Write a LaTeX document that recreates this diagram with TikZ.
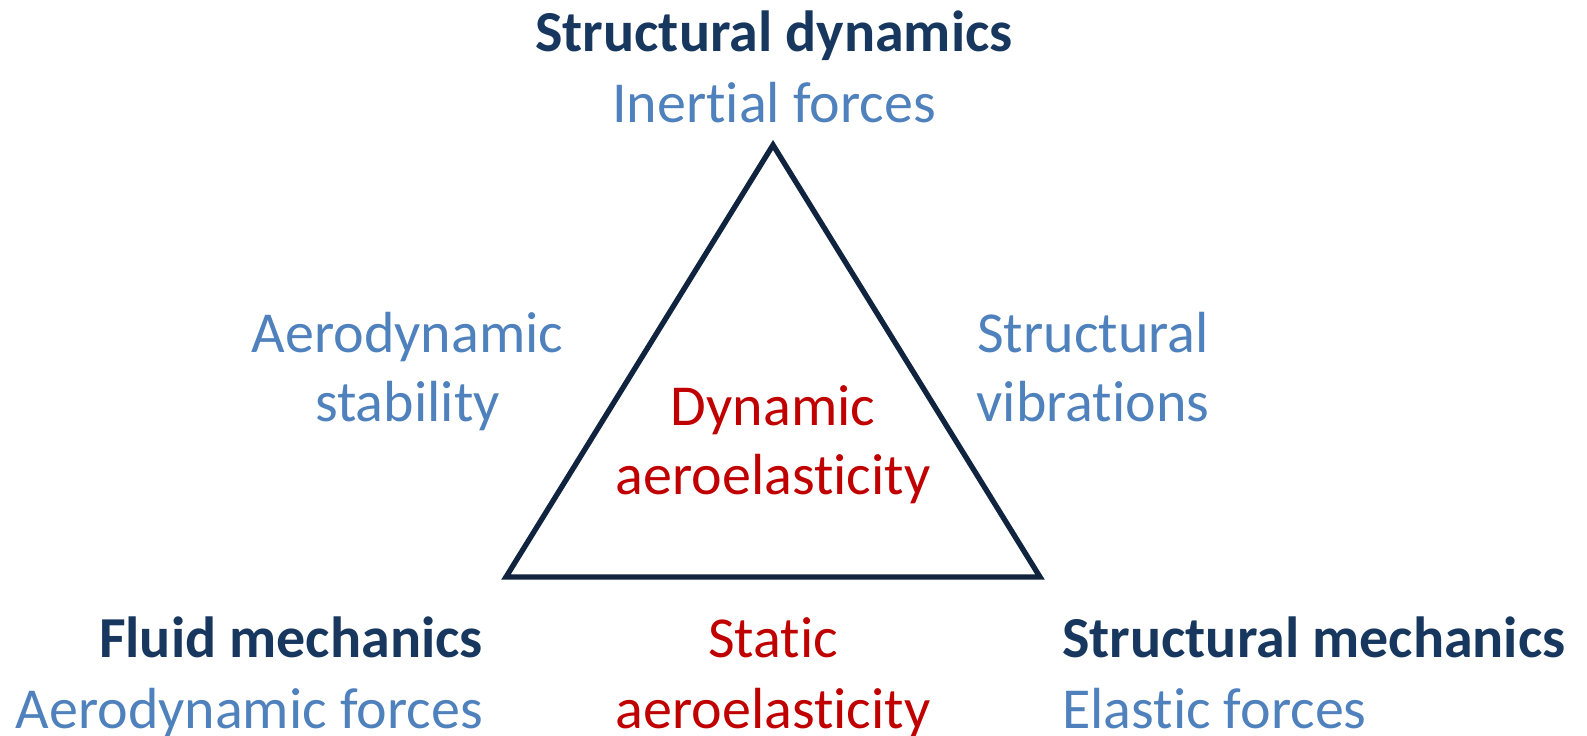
\documentclass[tikz,border=0pt]{standalone}
\usepackage{fontspec}
\setmainfont{Carlito}[Ligatures=NoCommon]
\definecolor{headnavy}{HTML}{17375E}
\definecolor{subblue}{HTML}{4F81BD}
\definecolor{aerored}{HTML}{C00000}
\definecolor{edgenavy}{HTML}{10243F}
\begin{document}
\begin{tikzpicture}[x=0.75pt,y=-0.75pt,
  label/.style={inner sep=0pt,anchor=base,font=\fontsize{43.5}{52}\selectfont},
  head/.style={label,text=headnavy,font=\fontsize{43.5}{52}\selectfont\bfseries},
  sub/.style={label,text=subblue},
  kind/.style={label,text=aerored},
  edge/.style={draw=edgenavy,line width=4pt,line join=miter}]
\useasboundingbox (0,0) rectangle (1587,735);

% triangle corners
\coordinate (apex) at (773,145);
\coordinate (left) at (506,577);
\coordinate (right) at (1040,577);
\draw[edge] (apex) -- (left) -- (right) -- cycle;

% top corner
\node[head] (sdyn) at (774,51) {Structural dynamics};
\node[sub] (inertial) at (774,122) {Inertial forces};

% sides
\node[sub] (aeroA) at (407.5,352) {Aerodynamic};
\node[sub] (aeroB) at (407.5,421) {stability};
\node[sub] (vibA) at (1093,352) {Structural};
\node[sub] (vibB) at (1093,421) {vibrations};

% inside
\node[kind] (dynA) at (773,425) {Dynamic};
\node[kind] (dynB) at (773,494) {aeroelasticity};

% bottom left corner
\node[head,anchor=base east] (fluid) at (483,657) {Fluid mechanics};
\node[sub,anchor=base east] (aeroforces) at (483,728) {Aerodynamic forces};

% bottom edge
\node[kind] (statA) at (773,657) {Static};
\node[kind] (statB) at (773,728) {aeroelasticity};

% bottom right corner
\node[head,anchor=base west] (smech) at (1062,657) {Structural mechanics};
\node[sub,anchor=base west] (elastic) at (1062,728) {Elastic forces};
\end{tikzpicture}
\end{document}
